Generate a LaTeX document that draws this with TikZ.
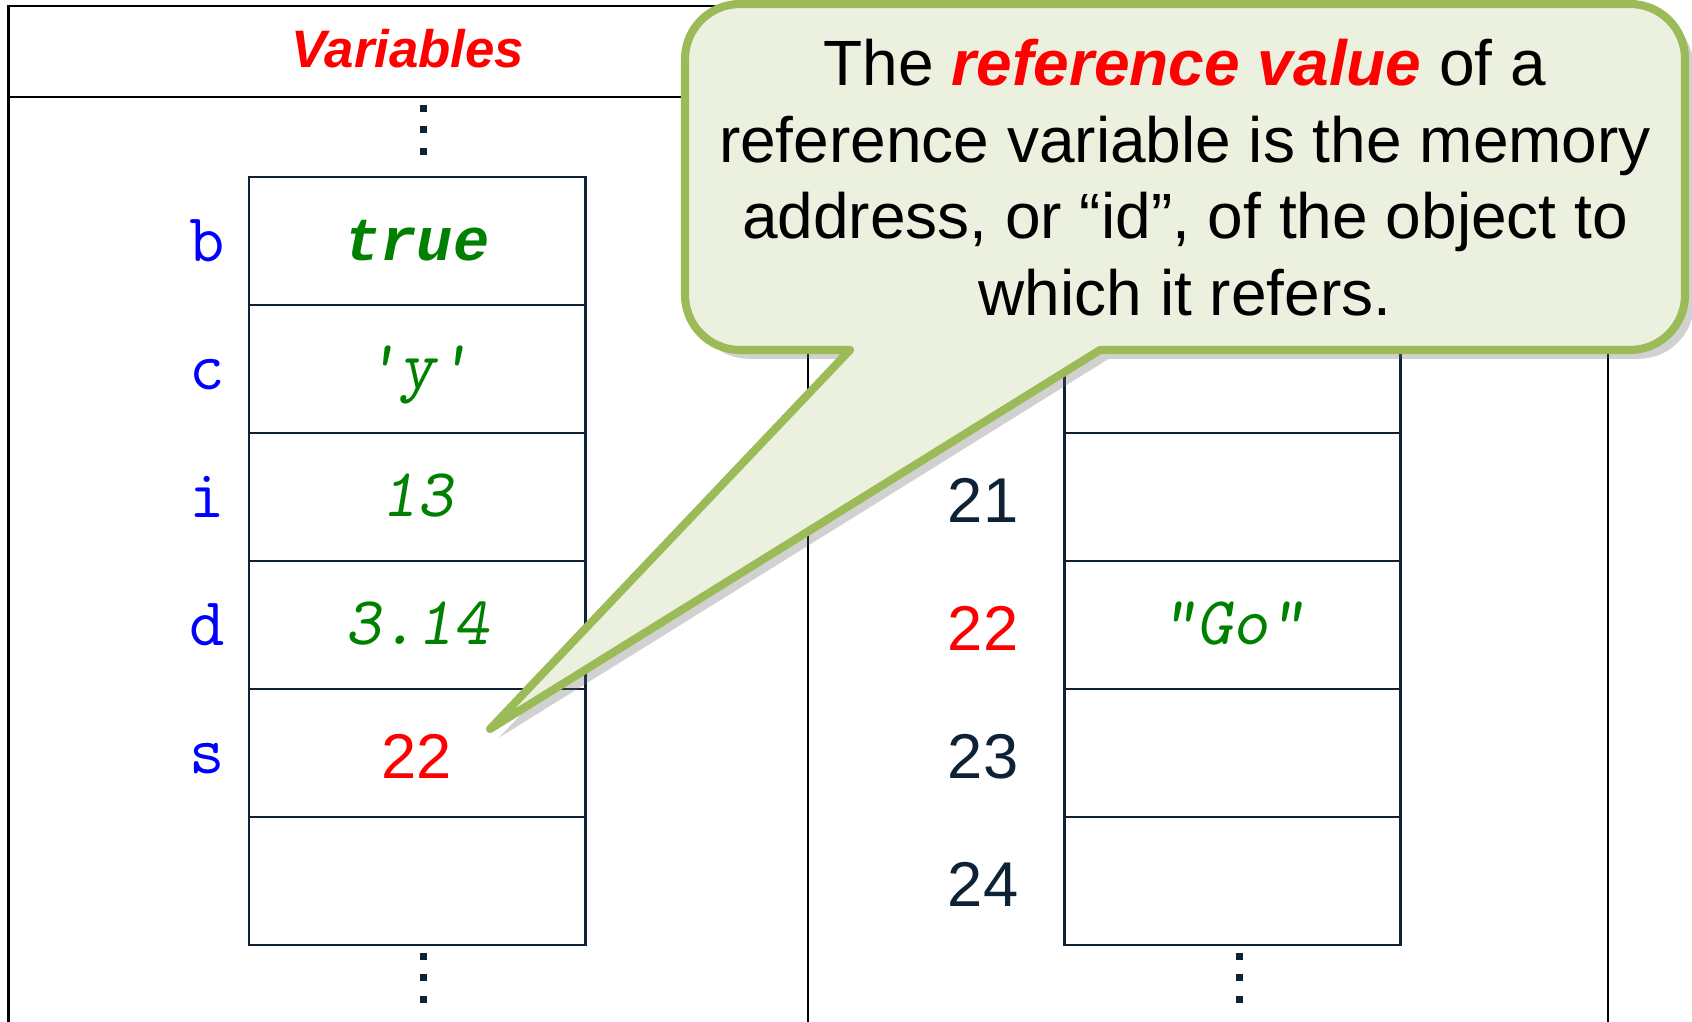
\documentclass[tikz,border=0pt]{standalone}
\usepackage{fontspec}
\setmainfont{Liberation Sans}
\newfontfamily\boldmono{Liberation Mono}
\usetikzlibrary{positioning, shadows}
\definecolor{ink}{HTML}{0E2236}
\definecolor{vblue}{HTML}{0000FF}
\definecolor{vgreen}{HTML}{008000}
\definecolor{vred}{HTML}{FF0000}
\definecolor{bubfill}{HTML}{EBF1DE}
\definecolor{bubline}{HTML}{9BBB59}

\begin{document}
\begin{tikzpicture}[x=0.01cm, y=-0.01cm,
    tabline/.style={draw=black, line width=0.75pt},
    cellL/.style={rectangle, draw=ink, line width=0.8pt, minimum width=3.36cm,
                  minimum height=1.28cm, inner sep=0pt, text=vgreen,
                  font=\fontsize{19.5}{22}\selectfont\ttfamily\slshape,
                  text height=0.38cm, text depth=0pt},
    cellR/.style={cellL},
    hot/.style={text=vred, font=\fontsize{18}{20}\selectfont, text height=0.5cm},
    vname/.style={font=\fontsize{19.5}{22}\selectfont\ttfamily, text=vblue,
                  text height=0.40cm, text depth=0pt, inner sep=0pt},
    addr/.style={font=\fontsize{18}{20}\selectfont, text=ink,
                 text height=0.5cm, text depth=0pt, inner sep=0pt},
    head/.style={font=\fontsize{15}{18}\selectfont\bfseries\itshape, text=vred},
    bubble/.style={fill=bubfill, draw=bubline, line width=2.3pt, line join=round,
                   drop shadow={shadow xshift=2.5pt, shadow yshift=-2.5pt,
                                opacity=0.3, fill=black!60}},
    note/.style={align=center, font=\fontsize{18.2}{21.8}\selectfont},
]
\useasboundingbox (0,0) rectangle (1692,1022);

% ================================================================ frame
\draw[tabline] (8.6,1022) -- (8.6,6) -- (1608,6) -- (1608,1022);
\draw[tabline] (8.6,97) -- (1608,97);
\draw[tabline] (808,97) -- (808,1022);
\node[head, anchor=base] (vhead) at (408,68) {Variables};

% ================================================================ left
\foreach \k/\nm/\val in {1/b/{}, 2/c/{'y'}, 3/i/{13}, 4/d/{3.14}, 5/s/{}, 6/{}/{}}{
    \node[cellL] (v\k) at (417, {241 + (\k-1)*128}) {\val};
    \node[vname] (n\k) at (207, {241 + (\k-1)*128}) {\nm};
}
\node[cellL, draw=none, font=\fontsize{17.2}{20}\selectfont\boldmono\bfseries\itshape]
    (bval) at (v1.center) {true};
\node[hot, anchor=center] (sval) at (v5.center) {22};

\foreach \y in {108.5, 130, 151.5, 956, 977.5, 999}{
    \fill[ink] (419.5, \y-3.5) rectangle ++(7,7);
}

% ================================================================ right
\foreach \k in {1,...,6}{
    \node[cellR] (m\k) at (1232.7, {241 + (\k-1)*128}) {};
}
\node[cellR, draw=none] (goval) at (m4.center) {"Go"};

\foreach \k/\a in {3/21, 5/23, 6/24}{
    \node[addr] (a\a) at (983, {241 + (\k-1)*128}) {\a};
}
\node[addr, text=vred] (a22) at (983, 625) {22};

\foreach \y in {956, 977.5, 999}{
    \fill[ink] (1235.5, \y-3.5) rectangle ++(7,7);
}

% ================================================================ callout
\coordinate (tip) at (490,729);
\draw[bubble] (850,350) -- (tip) -- (1100,350) [rounded corners=0.55cm]
    -- (1685,350) -- (1685,4) -- (685,4) -- (685,350) [sharp corners] -- cycle;
\node[note, anchor=base] (msg) at (1185,315.5)
    {The \textcolor{vred}{\bfseries\itshape reference value} of a\\
     reference variable is the memory\\
     address, or “id”, of the object to\\
     which it refers.};

\end{tikzpicture}
\end{document}
